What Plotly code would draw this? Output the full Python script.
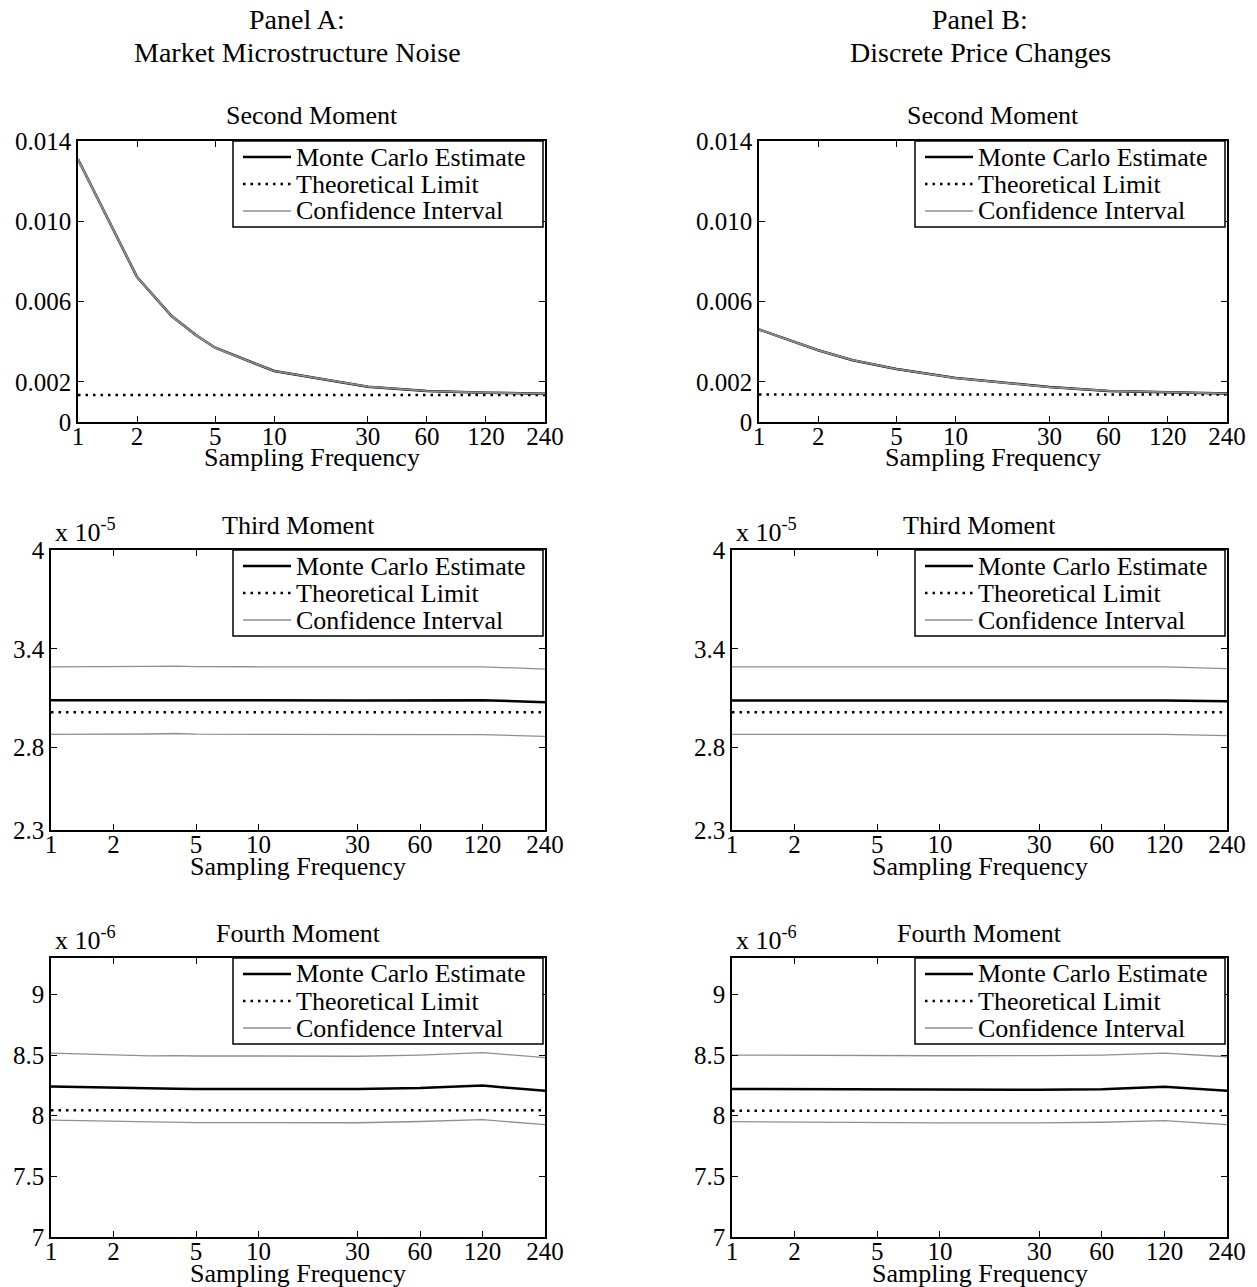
import plotly.graph_objects as go

W, H = 1257, 1287

# ---------------- data ----------------
freq = [1, 2, 3, 4, 5, 10, 30, 60, 120, 240]
xticks = [1, 2, 5, 10, 30, 60, 120, 240]
xtick_labels = ["1", "2", "5", "10", "30", "60", "120", "240"]

# Second moment (values)
second_a_mc = [0.01309, 0.00722, 0.00528, 0.00432, 0.00370, 0.00254, 0.00176, 0.001545, 0.00146, 0.00141]
second_a_up = [0.01313, 0.00725, 0.00530, 0.00434, 0.00372, 0.00255, 0.00177, 0.001555, 0.00147, 0.00142]
second_a_lo = [0.01305, 0.00719, 0.00526, 0.00430, 0.00368, 0.00253, 0.00175, 0.001535, 0.00145, 0.00140]
second_a_lim = 0.00135

second_b_mc = [0.00461, 0.003575, 0.00308, 0.00282, 0.00264, 0.00219, 0.00174, 0.00155, 0.00147, 0.00142]
second_b_up = [0.00463, 0.00359, 0.00309, 0.00283, 0.00265, 0.00220, 0.00175, 0.00156, 0.00148, 0.00143]
second_b_lo = [0.00459, 0.00356, 0.00307, 0.00281, 0.00263, 0.00218, 0.00173, 0.00154, 0.00146, 0.00141]
second_b_lim = 0.00137

# Third moment (x 1e-5)
third_a_mc = [3.088, 3.088, 3.090, 3.092, 3.089, 3.088, 3.086, 3.088, 3.088, 3.076]
third_a_up = [3.291, 3.290, 3.293, 3.295, 3.292, 3.291, 3.289, 3.291, 3.291, 3.277]
third_a_lo = [2.881, 2.880, 2.883, 2.886, 2.882, 2.881, 2.879, 2.881, 2.879, 2.868]
third_a_lim = 3.015

third_b_mc = [3.087, 3.087, 3.086, 3.085, 3.085, 3.085, 3.085, 3.086, 3.086, 3.082]
third_b_up = [3.290, 3.290, 3.290, 3.289, 3.289, 3.289, 3.289, 3.290, 3.290, 3.280]
third_b_lo = [2.881, 2.881, 2.880, 2.880, 2.880, 2.880, 2.880, 2.881, 2.881, 2.873]
third_b_lim = 3.015

# Fourth moment (x 1e-6)
fourth_a_mc = [8.240, 8.228, 8.222, 8.222, 8.221, 8.221, 8.221, 8.228, 8.248, 8.205]
fourth_a_up = [8.516, 8.500, 8.493, 8.495, 8.492, 8.492, 8.490, 8.500, 8.520, 8.478]
fourth_a_lo = [7.964, 7.955, 7.945, 7.946, 7.943, 7.943, 7.942, 7.952, 7.967, 7.926]
fourth_a_lim = 8.044

fourth_b_mc = [8.221, 8.219, 8.216, 8.215, 8.213, 8.213, 8.214, 8.219, 8.238, 8.205]
fourth_b_up = [8.500, 8.498, 8.496, 8.495, 8.494, 8.494, 8.495, 8.500, 8.516, 8.486]
fourth_b_lo = [7.951, 7.948, 7.944, 7.942, 7.940, 7.940, 7.941, 7.946, 7.959, 7.926]
fourth_b_lim = 8.041

panel_titles = [["Panel A:", "Market Microstructure Noise"], ["Panel B:", "Discrete Price Changes"]]
row_titles = ["Second Moment", "Third Moment", "Fourth Moment"]
exponents = [None, "x 10<sup>-5</sup>", "x 10<sup>-6</sup>"]
legend_names = ["Monte Carlo Estimate", "Theoretical Limit", "Confidence Interval"]
x_title = "Sampling Frequency"

y_ranges = [[0, 0.014], [2.3, 4.0], [7.0, 9.3]]
y_ticks = [[0, 0.002, 0.006, 0.010, 0.014], [2.3, 2.8, 3.4, 4.0], [7, 7.5, 8, 8.5, 9]]
y_tick_labels = [["0", "0.002", "0.006", "0.010", "0.014"], ["2.3", "2.8", "3.4", "4"], ["7", "7.5", "8", "8.5", "9"]]

series = [
    [(second_a_mc, second_a_up, second_a_lo, second_a_lim), (second_b_mc, second_b_up, second_b_lo, second_b_lim)],
    [(third_a_mc, third_a_up, third_a_lo, third_a_lim), (third_b_mc, third_b_up, third_b_lo, third_b_lim)],
    [(fourth_a_mc, fourth_a_up, fourth_a_lo, fourth_a_lim), (fourth_b_mc, fourth_b_up, fourth_b_lo, fourth_b_lim)],
]

# ---------------- styles ----------------
FONT = "Liberation Serif"
MC_STYLE = dict(color="black", width=2.5)
LIM_STYLE = dict(color="black", width=2.5, dash="2.5px,5px")
CI_STYLE = dict(color="#8f8f8f", width=1.3)

# ---------------- layout geometry (pixels) ----------------
x_px = [[(78, 545), (759, 1227)], [(51, 545), (732, 1227)], [(51, 545), (732, 1227)]]
y_px = [(141, 422), (550, 830), (958, 1237)]


def px(x):
    return x / W


def py(y):
    return 1 - y / H


fig = go.Figure()
layout = dict(
    width=W, height=H, margin=dict(l=0, r=0, t=0, b=0),
    paper_bgcolor="white", plot_bgcolor="white",
    font=dict(family=FONT, size=25, color="black"),
    showlegend=False,
)
annotations = []
shapes = []

idx = 0
for r in range(3):
    for c in range(2):
        idx += 1
        xa = "xaxis" if idx == 1 else f"xaxis{idx}"
        ya = "yaxis" if idx == 1 else f"yaxis{idx}"
        xr = "x" if idx == 1 else f"x{idx}"
        yr = "y" if idx == 1 else f"y{idx}"
        x0, x1 = x_px[r][c]
        yt, yb = y_px[r]
        mc, up, lo, lim = series[r][c]
        lim_line = [lim for _ in freq]

        fig.add_trace(go.Scatter(x=freq, y=mc, mode="lines", name=legend_names[0],
                                 line=MC_STYLE, xaxis=xr, yaxis=yr))
        fig.add_trace(go.Scatter(x=freq, y=lim_line, mode="lines", name=legend_names[1],
                                 line=LIM_STYLE, xaxis=xr, yaxis=yr))
        fig.add_trace(go.Scatter(x=freq, y=up, mode="lines", name=legend_names[2],
                                 line=CI_STYLE, xaxis=xr, yaxis=yr))
        fig.add_trace(go.Scatter(x=freq, y=lo, mode="lines", name=legend_names[2],
                                 line=CI_STYLE, xaxis=xr, yaxis=yr))

        layout[xa] = dict(
            domain=[px(x0), px(x1)], anchor=yr, type="log", range=[0, 2.380211],
            tickvals=xticks, ticktext=xtick_labels, ticks="inside", ticklen=6, tickcolor="black",
            showline=True, linecolor="black", linewidth=1.5, mirror="ticks", showgrid=False, zeroline=False,
            tickfont=dict(size=25), ticklabelstandoff=-9, automargin=False,
        )
        layout[ya] = dict(
            domain=[py(yb), py(yt)], anchor=xr, range=y_ranges[r], tickvals=y_ticks[r], ticktext=y_tick_labels[r],
            ticks="inside", ticklen=6, tickcolor="black",
            showline=True, linecolor="black", linewidth=1.5, mirror="ticks", showgrid=False, zeroline=False,
            tickfont=dict(size=25), automargin=False,
        )
        # x axis title
        annotations.append(dict(text=x_title, x=px((x0 + x1) / 2), y=py(yb + 36),
                                xref="paper", yref="paper", xanchor="center", yanchor="middle",
                                showarrow=False, font=dict(family=FONT, size=26)))
        # subplot title
        annotations.append(dict(text=row_titles[r], x=px((x0 + x1) / 2), y=py(yt - 25),
                                xref="paper", yref="paper", xanchor="center", yanchor="middle",
                                showarrow=False, font=dict(family=FONT, size=26)))
        if exponents[r]:
            annotations.append(dict(text=exponents[r], x=px(x0 + 2), y=py(yt - 1),
                                    xref="paper", yref="paper", xanchor="left", yanchor="bottom",
                                    showarrow=False, font=dict(family=FONT, size=26)))

        # legend box (MATLAB style)
        bx1 = x1 - 2
        bx0 = bx1 - 310
        by0 = yt
        by1 = yt + 86
        shapes.append(dict(type="rect", xref="paper", yref="paper", x0=px(bx0), x1=px(bx1),
                           y0=py(by1), y1=py(by0), line=dict(color="black", width=1.5),
                           fillcolor="white", layer="above"))
        for k, (name, st) in enumerate(zip(legend_names, [MC_STYLE, LIM_STYLE, CI_STYLE])):
            ry = by0 + 16 + 27 * k
            shapes.append(dict(type="line", xref="paper", yref="paper", x0=px(bx0 + 10), x1=px(bx0 + 58),
                               y0=py(ry), y1=py(ry), line=st, layer="above"))
            annotations.append(dict(text=name, x=px(bx0 + 61), y=py(ry), xref="paper", yref="paper",
                                    xanchor="left", yanchor="middle", showarrow=False,
                                    font=dict(family=FONT, size=26)))

for c, (t1, t2) in enumerate(panel_titles):
    cx = [297, 980][c]
    annotations.append(dict(text=t1, x=px(cx), y=py(20), xref="paper", yref="paper",
                            xanchor="center", yanchor="middle", showarrow=False,
                            font=dict(family=FONT, size=28)))
    annotations.append(dict(text=t2, x=px(cx), y=py(52), xref="paper", yref="paper",
                            xanchor="center", yanchor="middle", showarrow=False,
                            font=dict(family=FONT, size=28)))

layout["annotations"] = annotations
layout["shapes"] = shapes
fig.update_layout(**layout)
fig.write_html("out.html", config={"displayModeBar": False},
               post_script="document.body.style.margin='0px';")
